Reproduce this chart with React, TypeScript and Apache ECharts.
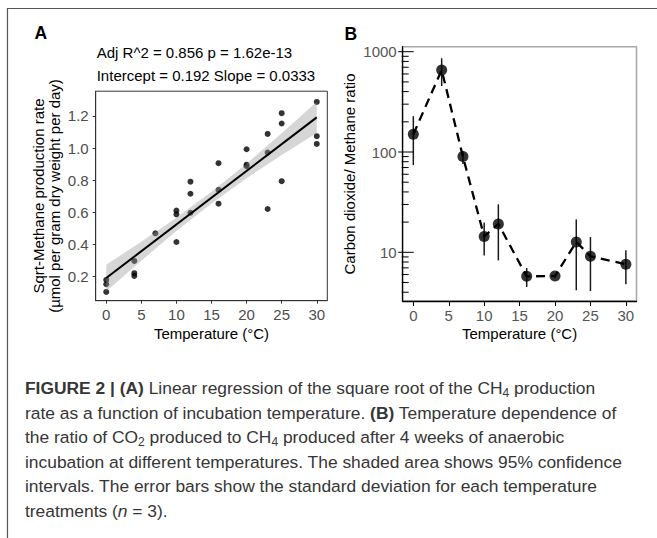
import React, { useEffect, useRef } from 'react';
import * as echarts from 'echarts';

const FONT = "'Liberation Sans', Arial, Helvetica, sans-serif";

// Panel A: sqrt methane production rate vs temperature
const tempA = [0, 0, 0, 4, 4, 4, 7, 10, 10, 10, 12, 12, 12, 16, 16, 16, 20, 20, 20, 23, 23, 23, 25, 25, 25, 30, 30, 30];
const sqrtRate = [0.18, 0.153, 0.105, 0.298, 0.222, 0.205, 0.47, 0.611, 0.588, 0.416, 0.791, 0.716, 0.598, 0.906, 0.74, 0.654, 0.993, 0.897, 0.887, 1.088, 0.972, 0.621, 1.217, 1.153, 0.794, 1.287, 1.074, 1.026];
const fitX = [0, 30];
const fitY = [0.192, 1.191];
const bandX = [0, 5, 10, 15, 20, 25, 30];
const bandLo = [0.109, 0.3, 0.484, 0.655, 0.813, 0.957, 1.094];
const bandHi = [0.275, 0.417, 0.566, 0.728, 0.903, 1.092, 1.288];
const ticksAX = [0, 5, 10, 15, 20, 25, 30];
const ticksAY = [0.2, 0.4, 0.6, 0.8, 1.0, 1.2];

// Panel B: CO2 / CH4 ratio vs temperature
const tempB = [0, 4, 7, 10, 12, 16, 20, 23, 25, 30];
const ratio = [150, 657, 90, 14.4, 19.2, 5.76, 5.8, 12.7, 9.12, 7.59];
const ratioLo = [74, 455, 76, 9.27, 8.3, 4.51, 5.5, 4.18, 4.11, 4.79];
const ratioHi = [228, 859, 102, 19.8, 30.1, 6.97, 6.1, 21.3, 14.2, 10.5];
const ticksBX = [0, 5, 10, 15, 20, 25, 30];
const majorTicksB = [10, 100, 1000];
const minorTicksB = [4, 5, 6, 7, 8, 9, 20, 30, 40, 50, 60, 70, 80, 90, 200, 300, 400, 500, 600, 700, 800, 900];

const captionLines = [
  '{b|FIGURE 2 | (A)} Linear regression of the square root of the CH{s|4} production',
  'rate as a function of incubation temperature. {b|(B)} Temperature dependence of',
  'the ratio of CO{s|2} produced to CH{s|4} produced after 4 weeks of anaerobic',
  'incubation at different temperatures. The shaded area shows 95% confidence',
  'intervals. The error bars show the standard deviation for each temperature',
  'treatments ({i|n} = 3).',
];
const captionY = [388, 412.5, 437, 461.5, 486, 510.5];

function txt(text: string, x: number, y: number, opts: any = {}) {
  return {
    type: 'text',
    x,
    y,
    rotation: opts.rotation || 0,
    z: 100,
    style: {
      text,
      fill: opts.fill || '#000',
      fontSize: opts.fontSize || 15,
      fontFamily: FONT,
      fontWeight: opts.fontWeight || 'normal',
      align: opts.align || 'left',
      textAlign: opts.align || 'left',
      verticalAlign: 'middle',
      textVerticalAlign: 'middle',
    },
  };
}

export default function App() {
  const ref = useRef<HTMLDivElement>(null);
  useEffect(() => {
    const chart = echarts.init(ref.current!, null, { renderer: 'svg' });
    const CAP = 17.4;
    const captionGraphics = captionLines.map((line, i) => ({
      type: 'text',
      x: 25,
      y: captionY[i],
      z: 100,
      style: {
        text: line,
        fill: '#363636',
        fontSize: CAP,
        fontFamily: FONT,
        lineHeight: 21,
        align: 'left',
        textAlign: 'left',
        verticalAlign: 'middle',
        textVerticalAlign: 'middle',
        rich: {
          b: { fontWeight: 'bold', fontSize: CAP, fontFamily: FONT, fill: '#363636', lineHeight: 21 },
          s: { fontSize: 12, fontFamily: FONT, fill: '#363636', lineHeight: 14, verticalAlign: 'bottom' },
          i: { fontStyle: 'italic', fontSize: CAP, fontFamily: FONT, fill: '#363636', lineHeight: 21 },
        },
      },
    }));

    const option: any = {
      animation: false,
      backgroundColor: '#fff',
      grid: [
        { left: 95.7, top: 91.2, width: 231.6, height: 209.5, show: true, borderColor: '#333', borderWidth: 1, backgroundColor: 'transparent' },
        { left: 402.7, top: 46.7, width: 233.8, height: 254.3, show: true, borderColor: '#a8a8a8', borderWidth: 1.5, backgroundColor: 'transparent' },
      ],
      xAxis: [
        {
          type: 'value', gridIndex: 0, min: -1.5, max: 31.5,
          axisLine: { show: true, onZero: false, lineStyle: { color: '#333', width: 1 } },
          axisTick: { show: true, length: 3, customValues: ticksAX, lineStyle: { color: '#333' } },
          axisLabel: { customValues: ticksAX, color: '#4d4d4d', fontSize: 15, fontFamily: FONT, margin: 6, formatter: (v: number) => String(v) },
          splitLine: { show: false },
        },
        {
          type: 'value', gridIndex: 1, min: -1.5, max: 31.5,
          axisLine: { show: true, onZero: false, lineStyle: { color: '#000', width: 1.3 } },
          axisTick: { show: true, length: 5, customValues: ticksBX, lineStyle: { color: '#000', width: 1 } },
          axisLabel: { customValues: ticksBX, color: '#555', fontSize: 15, fontFamily: FONT, margin: 7, formatter: (v: number) => String(v) },
          splitLine: { show: false },
        },
      ],
      yAxis: [
        {
          type: 'value', gridIndex: 0, min: 0.0507, max: 1.354,
          axisLine: { show: true, onZero: false, lineStyle: { color: '#333', width: 1 } },
          axisTick: { show: true, length: 3, customValues: ticksAY, lineStyle: { color: '#333' } },
          axisLabel: { customValues: ticksAY, color: '#4d4d4d', fontSize: 15, fontFamily: FONT, margin: 7, formatter: (v: number) => v.toFixed(1) },
          splitLine: { show: false },
        },
        {
          type: 'log', logBase: 10, gridIndex: 1, min: 3.27, max: 1122,
          axisLine: { show: true, onZero: false, lineStyle: { color: '#000', width: 1.3 } },
          axisTick: { show: false },
          minorTick: { show: false },
          axisLabel: {
            color: '#555', fontSize: 15, fontFamily: FONT, margin: 6,
            showMinLabel: false, showMaxLabel: false,
            formatter: (v: number) => String(Math.round(v)),
          },
          splitLine: { show: false },
        },
      ],
      series: [
        {
          type: 'scatter', xAxisIndex: 0, yAxisIndex: 0, z: 2,
          symbolSize: 6, itemStyle: { color: '#000' },
          data: tempA.map((t, i) => [t, sqrtRate[i]]),
        },
        {
          type: 'custom', xAxisIndex: 0, yAxisIndex: 0, z: 3,
          data: [[bandX[0], bandLo[0], bandHi[0]]],
          encode: { x: 0, y: [1, 2] },
          renderItem: (params: any, api: any) => {
            const top = bandX.map((x, i) => api.coord([x, bandHi[i]]));
            const bot = bandX.map((x, i) => api.coord([x, bandLo[i]])).reverse();
            return { type: 'polygon', shape: { points: top.concat(bot) }, style: { fill: 'rgba(153,153,153,0.4)' } };
          },
        },
        {
          type: 'line', xAxisIndex: 0, yAxisIndex: 0, z: 4,
          showSymbol: false, symbol: 'none',
          lineStyle: { color: '#000', width: 2 },
          data: fitX.map((x, i) => [x, fitY[i]]),
        },
        {
          type: 'custom', xAxisIndex: 1, yAxisIndex: 1, z: 2,
          data: tempB.map((t, i) => [t, ratioLo[i], ratioHi[i]]),
          encode: { x: 0, y: [1, 2] },
          renderItem: (params: any, api: any) => {
            const a = api.coord([api.value(0), api.value(1)]);
            const b = api.coord([api.value(0), api.value(2)]);
            return { type: 'line', shape: { x1: a[0], y1: a[1], x2: b[0], y2: b[1] }, style: { stroke: '#1a1a1a', lineWidth: 1.5 } };
          },
        },
        {
          type: 'line', xAxisIndex: 1, yAxisIndex: 1, z: 3,
          showSymbol: false, symbol: 'none',
          lineStyle: { color: '#000', width: 2.3, type: [9, 6] },
          data: tempB.map((t, i) => [t, ratio[i]]),
        },
        {
          type: 'scatter', xAxisIndex: 1, yAxisIndex: 1, z: 4,
          symbolSize: 11, itemStyle: { color: '#000' },
          data: tempB.map((t, i) => [t, ratio[i]]),
        },
        {
          type: 'custom', xAxisIndex: 1, yAxisIndex: 1, z: 5, clip: false,
          data: majorTicksB.map((v) => [-1.5, v, 1]).concat(minorTicksB.map((v) => [-1.5, v, 0])),
          encode: { x: 0, y: 1 },
          renderItem: (params: any, api: any) => {
            const major = api.value(2) === 1;
            const p = api.coord([api.value(0), api.value(1)]);
            return {
              type: 'line',
              shape: { x1: p[0] - (major ? 4.5 : 1), y1: p[1], x2: p[0] + (major ? 11 : 6), y2: p[1] },
              style: { stroke: '#000', lineWidth: 1 },
            };
          },
        },
      ],
      graphic: [
        { type: 'line', z: 100, shape: { x1: 7.5, y1: 8.5, x2: 7.5, y2: 538 }, style: { stroke: '#555', lineWidth: 1.2 } },
        { type: 'line', z: 100, shape: { x1: 7, y1: 8.5, x2: 657, y2: 8.5 }, style: { stroke: '#555', lineWidth: 1.2 } },
        txt('A', 34.5, 32.5, { fontSize: 17.5, fontWeight: 'bold' }),
        txt('B', 344.5, 34, { fontSize: 17.5, fontWeight: 'bold' }),
        txt('Adj R^2 = 0.856 p = 1.62e-13', 96.7, 52.8),
        txt('Intercept = 0.192 Slope = 0.0333', 96.7, 75),
        txt('Temperature (°C)', 211.5, 333.5, { align: 'center' }),
        txt('Temperature (°C)', 519.6, 333.5, { align: 'center' }),
        txt('Sqrt-Methane production rate', 38.8, 196, { align: 'center', rotation: Math.PI / 2 }),
        txt('(µmol per gram dry weight per day)', 54.1, 196, { align: 'center', rotation: Math.PI / 2 }),
        txt('Carbon dioxide/ Methane ratio', 349.8, 174, { align: 'center', rotation: Math.PI / 2 }),
        ...captionGraphics,
      ],
    };
    chart.setOption(option);
    return () => chart.dispose();
  }, []);
  return <div ref={ref} style={{ position: 'fixed', left: 0, top: 0, width: 657, height: 538, background: '#fff' }} />;
}
